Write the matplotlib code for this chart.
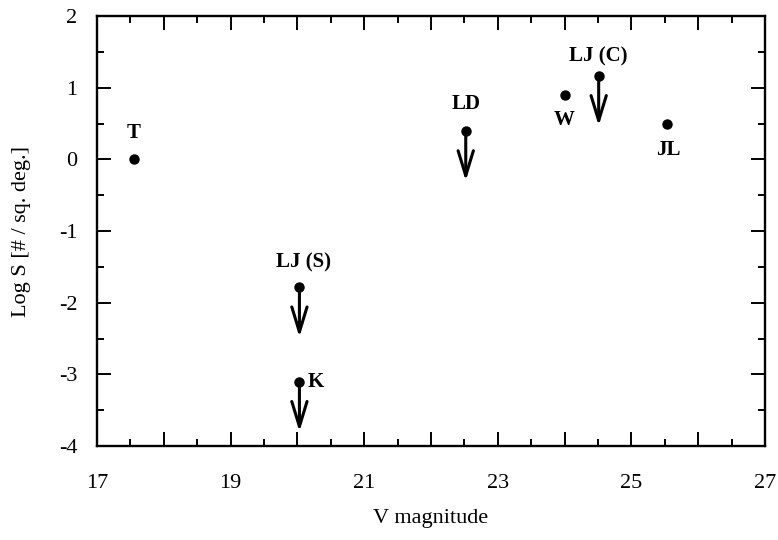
import matplotlib
matplotlib.use("Agg")
import matplotlib.pyplot as plt
from matplotlib.ticker import MultipleLocator

plt.rcParams['font.family'] = ['Liberation Serif', 'DejaVu Serif']
plt.rcParams['axes.unicode_minus'] = False

# --- data
names = ['T', 'LJ (S)', 'K', 'LD', 'W', 'LJ (C)', 'JL']
vmag = [17.55, 20.03, 20.03, 22.52, 24.0, 24.51, 25.53]
logs = [0.0, -1.78, -3.1, 0.4, 0.9, 1.17, 0.5]
upper_limit = [False, True, True, True, False, True, False]
arrow_len = 0.7
# label offsets in points (dx, dy)
lab_off = [(0, 19), (3, 18), (6, 0), (0, 19), (0, -18), (0, 14), (1, -19)]
lab_ha = ['center', 'center', 'left', 'center', 'center', 'center', 'center']

fig = plt.figure(figsize=(7.78, 5.40), dpi=100)
ax = fig.add_axes([0.1247, 0.174, 0.8586, 0.796])

ax.plot(vmag, logs, 'o', color='black', markersize=6.5, zorder=3)

for x, y, lim in zip(vmag, logs, upper_limit):
    if lim:
        ax.annotate('', xy=(x, y - arrow_len), xytext=(x, y),
                    arrowprops=dict(arrowstyle='->,head_length=1.8,head_width=0.55',
                                    color='black', lw=2.2, shrinkA=0, shrinkB=0))

for x, y, n, (dx, dy), ha in zip(vmag, logs, names, lab_off, lab_ha):
    ax.annotate(n, xy=(x, y), xytext=(dx, dy), textcoords='offset points',
                ha=ha, va='center', fontsize=15, fontweight='bold')

ax.set_xlim(17, 27)
ax.set_ylim(-4, 2)
# long tick at every integer, labels only on odd ones
ax.set_xticks(list(range(17, 28)))
ax.set_xticklabels([str(v) if v % 2 == 1 else '' for v in range(17, 28)])
ax.xaxis.set_minor_locator(MultipleLocator(0.5))
ax.yaxis.set_major_locator(MultipleLocator(1))
ax.yaxis.set_minor_locator(MultipleLocator(0.5))

ax.tick_params(which='both', direction='in', top=True, right=True, width=1.4)
ax.tick_params(which='major', length=10, labelsize=16)
ax.tick_params(which='minor', length=5)
ax.tick_params(axis='x', which='major', pad=20)
ax.tick_params(axis='y', which='major', pad=14)

for s in ax.spines.values():
    s.set_linewidth(1.7)

ax.set_xlabel('V magnitude', fontsize=16, labelpad=12)
ax.set_ylabel('Log S [# / sq. deg.]', fontsize=16, labelpad=20)

fig.savefig('out.png', dpi=100)
